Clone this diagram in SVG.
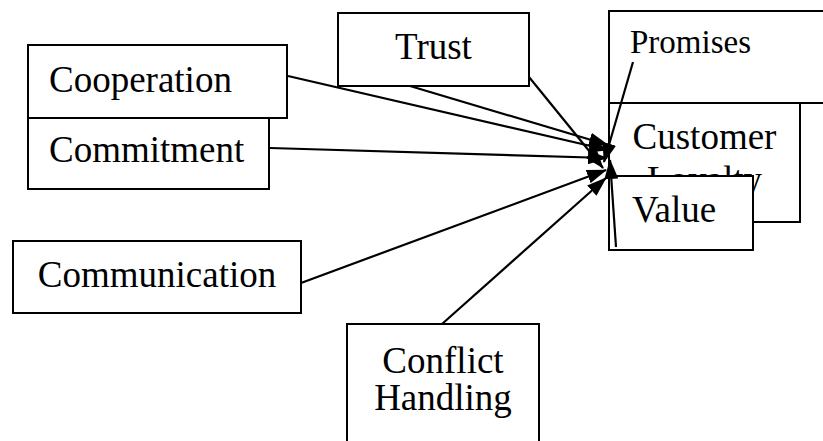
<svg xmlns="http://www.w3.org/2000/svg" width="823" height="441" viewBox="0 0 823 441">
<style>
.box{fill:#fff;stroke:#000;stroke-width:2}
.c{stroke:#000;stroke-width:2.2;fill:none;marker-end:url(#ah)}
</style>
<defs>
<marker id="ah" markerUnits="userSpaceOnUse" markerWidth="20" markerHeight="14" refX="19" refY="7" orient="auto">
<path d="M0,0 L20,7 L0,14 z" fill="#000"/>
</marker>
</defs>
<rect width="823" height="441" fill="#fff"/>
<g font-family="'Liberation Serif', 'Times New Roman', 'DejaVu Serif', serif" font-size="37" fill="#000">
<g id="promises"><rect class="box" x="609" y="11" width="230" height="92"/><text x="630" y="53" font-size="33">Promises</text></g>
<g id="customer-loyalty"><rect class="box" x="609" y="103" width="191" height="119"/><text x="704.5" y="149" text-anchor="middle">Customer</text><text x="704.5" y="192" text-anchor="middle">Loyalty</text></g>
<g id="value"><rect class="box" x="609" y="176" width="144" height="74"/><text x="632" y="222">Value</text></g>
<g id="cooperation"><rect class="box" x="28" y="45" width="259" height="73"/><text x="49" y="92">Cooperation</text></g>
<g id="commitment"><rect class="box" x="28" y="118" width="241" height="71"/><text x="49" y="162">Commitment</text></g>
<g id="trust"><rect class="box" x="338" y="13" width="191" height="73"/><text x="433.5" y="59" text-anchor="middle">Trust</text></g>
<g id="communication"><rect class="box" x="13" y="241" width="288" height="72"/><text x="157" y="287" text-anchor="middle">Communication</text></g>
<g id="conflict-handling"><rect class="box" x="347" y="324" width="192" height="130"/><text x="443" y="373" text-anchor="middle">Conflict</text><text x="443" y="410" text-anchor="middle">Handling</text></g>
</g>
<g id="connectors">
<line class="c" x1="288" y1="76" x2="608" y2="150"/>
<line class="c" x1="410" y1="86" x2="608" y2="145"/>
<line class="c" x1="270" y1="148" x2="607" y2="158"/>
<line class="c" x1="529" y1="77" x2="603" y2="168"/>
<line class="c" x1="301" y1="283" x2="606" y2="170"/>
<line class="c" x1="442" y1="324" x2="606" y2="178"/>
<line class="c" x1="633" y1="62" x2="604" y2="162"/>
<line class="c" x1="616" y1="247" x2="610" y2="160"/>
</g>
</svg>
